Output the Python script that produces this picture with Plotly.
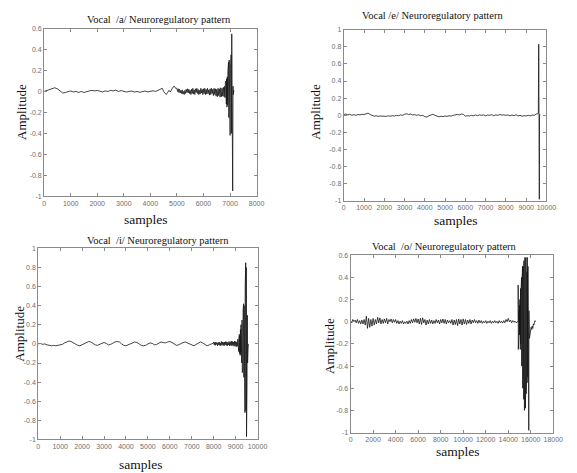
import numpy as np
import plotly.graph_objects as go

# ---------------- DATA ----------------
# Each signal: list of segments (start sample, sample step, amplitude values)
sig_a = [
    (0, 100, [0.0, 0.01, 0.02, 0.03, 0.035, 0.025, 0.005, -0.015, -0.01, 0.0,
              0.005, -0.005, 0.0, -0.01, 0.0, -0.01, 0.0, 0.005, 0.01, 0.005,
              0.01, 0.0, -0.005, 0.005, 0.0, 0.01, 0.005, 0.012, 0.0, 0.008,
              0.0, -0.006, 0.0, 0.004, -0.006, 0.0, -0.008, 0.0, 0.004, -0.004,
              0.0, 0.006, 0.0, 0.012]),
    (4400, 50, [0.02, 0.03, 0.0, -0.02, -0.03, -0.01, 0.01, -0.005, 0.02, 0.04,
                0.05, 0.03]),
    (5000, 25, [0.03, 0.0, 0.025, -0.01, 0.02, -0.015, 0.01, -0.02, 0.015, -0.025,
                0.0, -0.03, 0.01, -0.02, 0.02, -0.01, 0.025, -0.015, 0.02, -0.02,
                0.01, -0.03, 0.02, -0.02, 0.03, -0.025, 0.015, -0.03, 0.025, -0.01,
                0.03, -0.02, 0.02, -0.03, 0.01, -0.025, 0.03, -0.015, 0.02, -0.03,
                0.025, -0.02, 0.03, -0.03, 0.02, -0.025, 0.03, -0.02, 0.015, -0.035,
                0.025, -0.03, 0.03, -0.02, 0.02, -0.04, 0.03, -0.03, 0.025, -0.045,
                0.02, -0.05, 0.03, -0.04, 0.025, -0.055, 0.035, -0.05, 0.03, -0.045,
                0.04, -0.05]),
    (6800, 12, [0.05, -0.06, 0.09, -0.1, 0.1, -0.12, 0.12, -0.15, 0.14, -0.13,
                0.2, -0.22, 0.28, -0.25, 0.3, -0.3, 0.26, -0.42, 0.22, -0.2,
                0.35, -0.4, 0.55, -0.3, 0.3, -0.95, 0.05, -0.03, 0.01, 0.0]),
]

sig_e = [
    (0, 100, [0.01, 0.015, 0.005, 0.012, 0.0, 0.008, 0.0, 0.01, 0.005, 0.012,
              0.01, 0.02, 0.025, 0.01, 0.0, -0.01, -0.005, -0.012, -0.008, -0.01,
              -0.005, -0.012, -0.006, -0.01, -0.004, -0.008, 0.0, -0.005, 0.005, 0.0,
              0.012, 0.018, 0.01, 0.015, 0.005, 0.008, 0.0, 0.006, -0.005, 0.0,
              -0.015, -0.02, -0.005, 0.005, 0.012, 0.0, -0.012, -0.018, -0.01, -0.015,
              -0.008, -0.012, -0.004, -0.01, 0.0, 0.005, 0.01, 0.005, 0.015, 0.012,
              -0.01, -0.004, -0.008, 0.0, -0.006, 0.004, -0.004, 0.006, 0.0, 0.005,
              -0.005, 0.004, 0.0, 0.008, -0.004, 0.005, 0.0, 0.01, 0.002, 0.006,
              0.0, 0.006, -0.006, 0.004, -0.004, 0.008, -0.008, 0.0, -0.01, -0.004,
              -0.008, 0.0, -0.006, 0.004, 0.0, 0.015, 0.02]),
    (9620, 10, [0.83, -0.2, 0.05, -0.98, 0.0, 0.01, 0.0]),
]

sig_i = [
    (0, 100, [0.0, 0.005, -0.005, 0.0, -0.01, -0.015, -0.02, -0.015, -0.02, -0.015,
              -0.01, -0.005, 0.01, 0.02, 0.03, 0.025, 0.01, -0.005, -0.015, -0.02,
              -0.01, 0.005, 0.015, 0.025, 0.02, 0.005, -0.01, -0.015, -0.005, 0.01,
              0.015, 0.005, -0.01, -0.005, 0.01, 0.02, 0.025, 0.02, 0.0, -0.015,
              -0.02, -0.01, 0.005, 0.015, 0.02, 0.015, 0.0, -0.015, -0.02, -0.015,
              0.0, 0.01, 0.005, -0.01, -0.005, 0.01, 0.02, 0.015, 0.01, 0.02,
              0.025, 0.015, 0.0, -0.015, -0.01, 0.005, 0.015, 0.02, 0.01, -0.005,
              -0.015, -0.02, -0.005, 0.01, 0.02, 0.01, -0.01, -0.02, -0.01, 0.0,
              0.01]),
    (8000, 25, [0.02, -0.01, 0.015, -0.015, 0.02, -0.005, 0.01, -0.02, 0.015, -0.01,
                0.02, -0.015, 0.01, -0.02, 0.025, -0.01, 0.02, -0.015, 0.015, -0.02,
                0.02, -0.01, 0.025, -0.015, 0.02, -0.02, 0.015, -0.01, 0.025, -0.02,
                0.02, -0.015, 0.03, -0.02, 0.025, -0.015, 0.02, -0.025, 0.03, -0.02,
                0.025, -0.03, 0.02, -0.025]),
    (9100, 12, [0.05, -0.06, 0.04, -0.08, 0.07, -0.05, 0.1, -0.1, 0.08, -0.12,
                0.15, -0.1, 0.2, -0.15, 0.18, -0.2, 0.25, -0.3, 0.2, -0.25,
                0.35, -0.2, 0.42, -0.35, 0.4, -0.5, 0.3, -0.72, 0.6, -0.6,
                0.85, -0.7, 0.8, -0.97, 0.5, -0.4, 0.3, -0.2, 0.1, -0.05, 0.0]),
]

sig_o = [
    (0, 100, [0.01, -0.01, 0.02, 0.0, 0.015, -0.01, 0.02, -0.015, 0.01, -0.02,
              0.015, -0.02, 0.02, -0.03, 0.05, -0.06, 0.03, -0.05, 0.02, -0.04,
              0.03, -0.03, 0.02, -0.02, 0.04, -0.01, 0.035, -0.02, 0.02, -0.015,
              0.025, -0.01, 0.03, -0.02, 0.02, 0.0, 0.025, -0.01, 0.02, -0.005,
              0.02, -0.015, 0.01, -0.02, 0.005, -0.015, 0.01, -0.02, 0.0, -0.015,
              0.005, -0.02, 0.01, -0.015, 0.02, -0.01, 0.025, -0.005, 0.03, -0.01,
              0.025, -0.02, 0.03, -0.025, 0.035, -0.01, 0.02, -0.03, 0.015, -0.02,
              0.02, -0.015, 0.015, -0.02, 0.01, -0.015, 0.02, -0.01, 0.015, -0.02,
              0.02, -0.01, 0.025, -0.015, 0.02, -0.02, 0.015, -0.01, 0.01, -0.015,
              0.02, -0.03, 0.015, -0.025, 0.02, -0.035, 0.025, -0.02, 0.02, -0.03,
              0.025, -0.02, 0.02, -0.025, 0.015, -0.015, 0.02, -0.02, 0.015, -0.01,
              0.02, -0.01, 0.01, -0.015, 0.015, -0.01, 0.01, -0.015, 0.005, -0.01,
              0.01, -0.015, 0.005, -0.01, 0.01, -0.015, 0.005, -0.01, 0.01, -0.01,
              0.005, -0.015, 0.01, -0.01, 0.005, -0.012, 0.01, -0.01, 0.02, 0.0,
              0.03, 0.0, 0.015, -0.01, 0.01, -0.005, 0.005, -0.01, 0.0, 0.0]),
    (14880, 15, [0.33, -0.25, 0.1, -0.05, 0.05, -0.08, 0.1, -0.12, 0.15, -0.1,
                 0.2, -0.2, 0.15, -0.25, 0.3, -0.2, 0.25, -0.35, 0.3, -0.3,
                 0.4, -0.4, 0.35, -0.5, 0.45, -0.45, 0.5, -0.6, 0.4, -0.55,
                 0.5, -0.65, 0.45, -0.7, 0.55, -0.6, 0.5, -0.8, 0.45, -0.75,
                 0.58, -0.7, 0.5, -0.78, 0.55, -0.6, 0.58, -0.65, 0.5, -0.55,
                 0.56, -0.5, 0.45, -0.55, 0.58, -0.45, 0.4, -0.5, 0.5, -0.4,
                 0.35, -0.45, 0.3, -0.98, 0.1, -0.15]),
    (15880, 50, [-0.15, -0.12, -0.08, -0.05, -0.07, -0.04, -0.06, -0.02, -0.03,
                 0.0, 0.01, 0.0]),
]

titles = ["Vocal  /a/ Neuroregulatory pattern",
          "Vocal /e/ Neuroregulatory pattern",
          "Vocal  /i/ Neuroregulatory pattern",
          "Vocal  /o/ Neuroregulatory pattern"]
x_label = "samples"
y_label = "Amplitude"

x_ranges = [[0, 8000], [0, 10000], [0, 10000], [0, 18000]]
x_ticks = [list(range(0, 8001, 1000)), list(range(0, 10001, 1000)),
           list(range(0, 10001, 1000)), list(range(0, 18001, 2000))]
y_ranges = [[-1, 0.6], [-1, 1], [-1, 1], [-1, 0.6]]
y_ticks_a = [-1, -0.8, -0.6, -0.4, -0.2, 0, 0.2, 0.4, 0.6]
y_ticks_b = [-1, -0.8, -0.6, -0.4, -0.2, 0, 0.2, 0.4, 0.6, 0.8, 1]
y_ticks = [y_ticks_a, y_ticks_b, y_ticks_b, y_ticks_a]

signals = [sig_a, sig_e, sig_i, sig_o]

# ---------------- LAYOUT ----------------
W, H = 577, 473
# axes boxes in pixels: (left, right, top, bottom)
boxes = [(43, 260, 25, 195), (349, 556, 26, 200), (37, 261, 248, 442), (356, 563, 255, 435)]
# title (x, y), y-label (x, y), x-label (x, y) in pixels
title_pos = [(160, 16), (440, 12), (159, 240), (452, 246)]
ylab_pos = [(20, 110), (320, 109), (17, 335), (335, 347)]
xlab_pos = [(147, 219), (464, 220), (142, 467), (466, 454)]


def px(x):
    return x / W


def py(y):
    return 1 - y / H


def build(segs):
    xs, ys = [], []
    for start, step, vals in segs:
        xs.extend((start + step * np.arange(len(vals))).tolist())
        ys.extend(vals)
    return xs, ys


def fmt(v):
    if v == int(v):
        return str(int(v))
    return ("%g" % v)


fig = go.Figure()
layout = dict(
    width=W, height=H, margin=dict(l=0, r=0, t=0, b=0),
    paper_bgcolor="white", plot_bgcolor="white", showlegend=False,
    annotations=[],
)
axcol = "#8a8a8a"
tickfont = dict(family="Liberation Sans, Arial", size=7, color="#6e6e6e")
serif = "Liberation Serif, Times New Roman, serif"

for i, segs in enumerate(signals):
    xs, ys = build(segs)
    sfx = "" if i == 0 else str(i + 1)
    fig.add_trace(go.Scatter(x=xs, y=ys, mode="lines",
                             line=dict(color="#151515", width=0.8),
                             xaxis="x" + sfx, yaxis="y" + sfx, hoverinfo="skip"))
    l, r, t, b = boxes[i]
    common = dict(showgrid=False, zeroline=False, showline=True, linecolor=axcol,
                  linewidth=1, mirror="ticks", ticks="inside", ticklen=3,
                  tickcolor=axcol, tickwidth=1, tickfont=tickfont, fixedrange=True)
    layout["xaxis" + sfx] = dict(common, domain=[px(l), px(r)], range=x_ranges[i],
                                 tickvals=x_ticks[i], ticktext=[fmt(v) for v in x_ticks[i]],
                                 anchor="y" + sfx)
    layout["yaxis" + sfx] = dict(common, domain=[py(b), py(t)], range=y_ranges[i],
                                 tickvals=y_ticks[i], ticktext=[fmt(v) for v in y_ticks[i]],
                                 anchor="x" + sfx)
    tx, ty = title_pos[i]
    layout["annotations"].append(dict(text=titles[i], x=px(tx), y=py(ty), xref="paper",
                                      yref="paper", showarrow=False, xanchor="center",
                                      yanchor="middle",
                                      font=dict(family=serif, size=10.5, color="#111")))
    yx, yy = ylab_pos[i]
    layout["annotations"].append(dict(text=y_label, x=px(yx), y=py(yy), xref="paper",
                                      yref="paper", showarrow=False, textangle=-90,
                                      xanchor="center", yanchor="middle",
                                      font=dict(family=serif, size=13, color="#111")))
    xx, xy = xlab_pos[i]
    layout["annotations"].append(dict(text=x_label, x=px(xx), y=py(xy), xref="paper",
                                      yref="paper", showarrow=False, xanchor="center",
                                      yanchor="middle",
                                      font=dict(family=serif, size=13.5, color="#111")))

fig.update_layout(**layout)
fig.write_html("out.html")
